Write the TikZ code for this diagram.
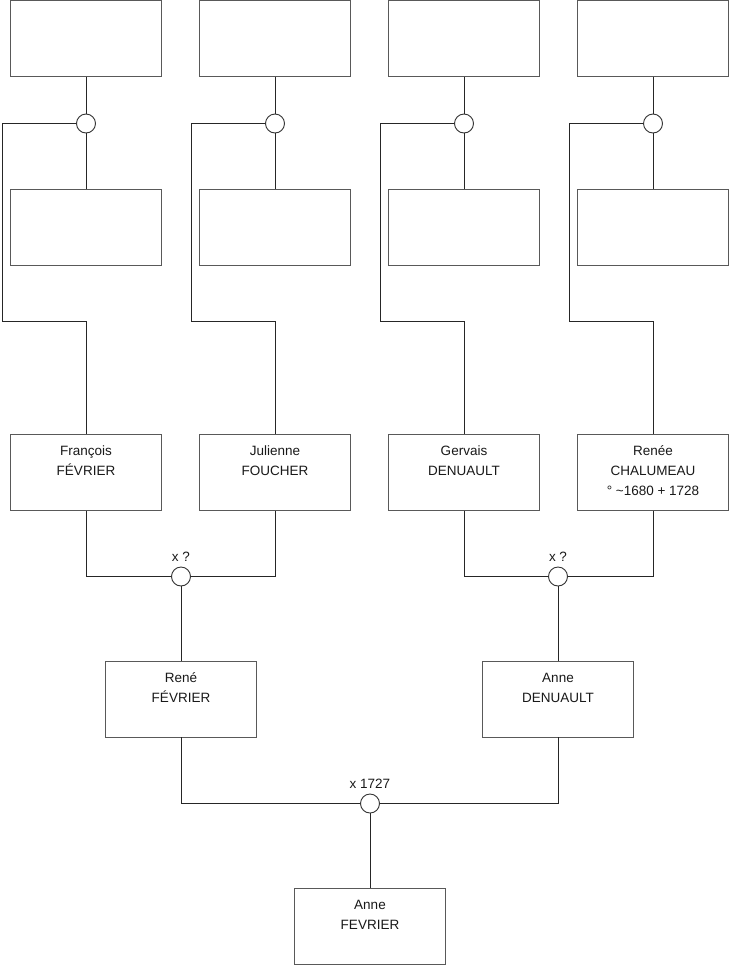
\documentclass[tikz,border=0pt]{standalone}
\usepackage{fontspec}
\setmainfont{Liberation Sans}
\begin{document}
\begin{tikzpicture}[x=1pt,y=-1pt,
  box/.style={draw=black!65,line width=0.9pt,fill=white,minimum width=151pt,minimum height=76pt,inner sep=0pt},
  knot/.style={circle,draw=black!80,line width=0.9pt,fill=white,minimum size=19pt,inner sep=0pt},
  link/.style={draw=black!85,line width=0.9pt},
  txt/.style={anchor=base,inner sep=0pt,font=\fontsize{13.5}{16}\selectfont,text=black!90},
  lbl/.style={anchor=base,inner sep=0pt,font=\fontsize{13.5}{16}\selectfont,text=black!90}]
\useasboundingbox (0,0) rectangle (740,975);
% columns
\foreach \i/\cx in {1/86,2/275,3/464,4/653}{
  \node[box] (t\i) at (\cx,38.5) {};
  \node[box] (m\i) at (\cx,227.5) {};
  \node[box] (b\i) at (\cx,472.5) {};
  \node[knot] (c\i) at (\cx,123.5) {};
  \coordinate (L\i) at (\cx-84,123.5);
  \coordinate (Ld\i) at (\cx-84,321);
  \coordinate (Lr\i) at (\cx,321);
  \path[link] (t\i.south) -- (c\i.north);
  \path[link] (c\i.south) -- (m\i.north);
  \path[link] (c\i.west) -- (L\i) -- (Ld\i) -- (Lr\i) -- (b\i.north);
}
% texts row 3
\node[txt] at ([yshift=-21.5pt]b1.north) {François};
\node[txt] at ([yshift=-41.5pt]b1.north) {FÉVRIER};
\node[txt] at ([yshift=-21.5pt]b2.north) {Julienne};
\node[txt] at ([yshift=-41.5pt]b2.north) {FOUCHER};
\node[txt] at ([yshift=-21.5pt]b3.north) {Gervais};
\node[txt] at ([yshift=-41.5pt]b3.north) {DENUAULT};
\node[txt] at ([yshift=-21.5pt]b4.north) {Renée};
\node[txt] at ([yshift=-41.5pt]b4.north) {CHALUMEAU};
\node[txt] at ([yshift=-61.5pt]b4.north) {° \textasciitilde1680 + 1728};
% marriages row 3
\node[knot] (k1) at (181,576.5) {};
\node[knot] (k2) at (558,576.5) {};
\node[lbl] at ([yshift=5pt]k1.north) {x ?};
\node[lbl] at ([yshift=5pt]k2.north) {x ?};
\path[link] (b1.south) |- (k1.west);
\path[link] (b2.south) |- (k1.east);
\path[link] (b3.south) |- (k2.west);
\path[link] (b4.south) |- (k2.east);
% children
\node[box] (r) at (181,699) {};
\node[box] (a) at (558,699) {};
\node[txt] at ([yshift=-21.5pt]r.north) {René};
\node[txt] at ([yshift=-41.5pt]r.north) {FÉVRIER};
\node[txt] at ([yshift=-21.5pt]a.north) {Anne};
\node[txt] at ([yshift=-41.5pt]a.north) {DENUAULT};
\path[link] (k1.south) -- (r.north);
\path[link] (k2.south) -- (a.north);
% final marriage
\node[knot] (k3) at (370,803.5) {};
\node[lbl] at ([yshift=5pt]k3.north) {x 1727};
\path[link] (r.south) |- (k3.west);
\path[link] (a.south) |- (k3.east);
\node[box] (f) at (370,926) {};
\node[txt] at ([yshift=-21.5pt]f.north) {Anne};
\node[txt] at ([yshift=-41.5pt]f.north) {FEVRIER};
\path[link] (k3.south) -- (f.north);
\end{tikzpicture}
\end{document}
